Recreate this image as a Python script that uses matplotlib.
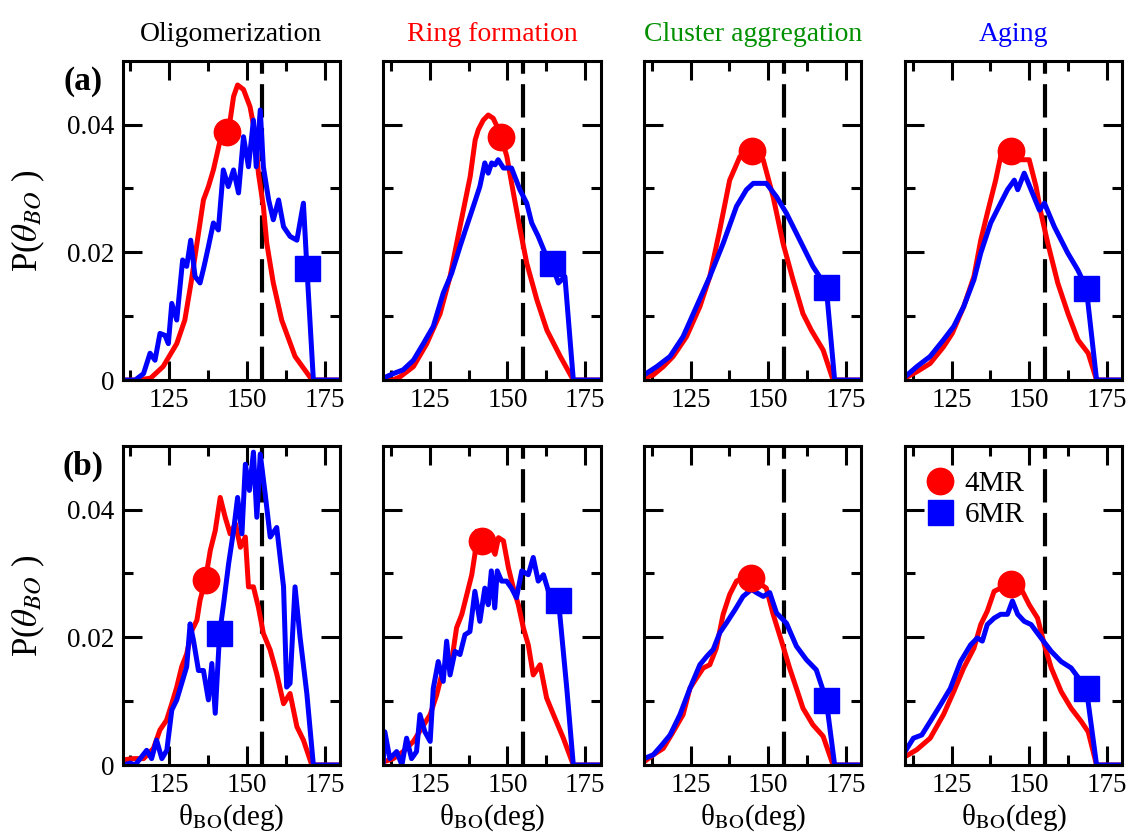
import numpy as np
import matplotlib
matplotlib.use('Agg')
import matplotlib.pyplot as plt
from matplotlib.lines import Line2D

plt.rcParams['font.family'] = ['Liberation Serif', 'DejaVu Serif']
plt.rcParams['mathtext.fontset'] = 'stix'

# Titulos de las columnas y sus colores
etapas = ["Oligomerization", "Ring formation", "Cluster aggregation", "Aging"]
colores_titulo = ["black", "#ff0000", "#009000", "#0000ff"]

# ---------------- Fila (a) ----------------
a1_4x = [110, 115, 119, 123, 127.4, 130, 132, 134.4, 136, 137.6, 139.2, 141.4, 144.6, 145.7, 147, 148.9, 151, 152.6, 153.7, 155.3, 156.4, 158.5, 161.2, 165.5, 171, 175, 180]
a1_4y = [0, 0, 0.0003, 0.0021, 0.0057, 0.0094, 0.0152, 0.023, 0.0282, 0.0303, 0.0329, 0.0376, 0.0407, 0.0444, 0.0462, 0.0455, 0.0428, 0.0387, 0.0324, 0.0272, 0.0214, 0.0152, 0.0094, 0.0037, 0, 0, 0]
a1_6x = [110, 114, 116.7, 118.8, 120.4, 122, 123.6, 124.7, 125.8, 127.4, 129.3, 130.6, 131.9, 133.3, 134.9, 136.2, 137.6, 139.2, 140.8, 142.4, 144, 145.7, 147.3, 148.9, 150.5, 152.1, 153, 154.3, 155.3, 157, 158.5, 160.2, 161.8, 163.9, 166.1, 168.2, 169.3, 171.4, 175, 180]
a1_6y = [0, 0, 0.001, 0.0042, 0.0031, 0.0073, 0.007, 0.0057, 0.012, 0.0094, 0.0188, 0.0178, 0.0219, 0.0162, 0.0152, 0.0178, 0.0209, 0.0246, 0.0235, 0.0329, 0.0303, 0.0329, 0.0293, 0.0381, 0.0334, 0.0407, 0.0334, 0.0423, 0.0334, 0.0282, 0.0251, 0.0282, 0.024, 0.0225, 0.0219, 0.0277, 0.0178, 0, 0, 0]

a2_4x = [110, 113, 115.4, 119.7, 124, 128.3, 131.5, 134.7, 138, 139.6, 140.6, 142.2, 143.8, 145.4, 147.6, 149.8, 151.9, 154.1, 156.2, 159.5, 162.7, 167, 171.2, 175, 180]
a2_4y = [0, 0, 0.0005, 0.0021, 0.0057, 0.0104, 0.0162, 0.024, 0.0319, 0.0376, 0.0392, 0.0407, 0.0415, 0.041, 0.0387, 0.035, 0.0293, 0.0235, 0.0183, 0.0125, 0.0078, 0.0037, 0, 0, 0]
a2_6x = [110, 113.2, 116.4, 119.7, 122.9, 126.1, 129.3, 132, 134.7, 136.8, 139, 141.1, 142.7, 143.8, 144.9, 146, 147, 148.7, 151.3, 154, 156.2, 157.8, 159.9, 162.1, 164.2, 166.4, 168.5, 171.2, 175, 180]
a2_6y = [0.0003, 0.001, 0.0016, 0.0031, 0.0057, 0.0084, 0.0136, 0.0167, 0.0209, 0.024, 0.0272, 0.0303, 0.034, 0.0324, 0.034, 0.0337, 0.0345, 0.0332, 0.0332, 0.0298, 0.0277, 0.0246, 0.0225, 0.0199, 0.0183, 0.0152, 0.0162, 0, 0, 0]

a3_4x = [110, 113, 116.2, 119.4, 123.7, 128, 131.2, 134.4, 137.6, 140.9, 144.9, 148.4, 151.6, 154.8, 158, 161.2, 163.9, 167.7, 170.9, 175, 180]
a3_4y = [0.0003, 0.0008, 0.0021, 0.0037, 0.0068, 0.0115, 0.0162, 0.0235, 0.0313, 0.035, 0.0358, 0.0345, 0.0287, 0.0214, 0.0157, 0.0104, 0.0078, 0.0047, 0, 0, 0]
a3_6x = [110, 114.1, 118.4, 122.6, 126.9, 131.2, 135.5, 139.8, 143, 145.2, 147.3, 149.4, 152.7, 155.9, 160.2, 164.4, 168.7, 171.4, 175, 180]
a3_6y = [0.0008, 0.0021, 0.0037, 0.0068, 0.0115, 0.0162, 0.0214, 0.0272, 0.0298, 0.0308, 0.0308, 0.0308, 0.0287, 0.0261, 0.0219, 0.0178, 0.0146, 0, 0, 0]

a4_4x = [110, 113.8, 118.1, 122.4, 125.2, 128.9, 132.2, 134.4, 136.5, 139.2, 140.8, 144.1, 147.3, 150, 152.2, 153.8, 156, 159.2, 162.5, 165.7, 169, 171.7, 175, 180]
a4_4y = [0.0003, 0.0013, 0.0026, 0.0052, 0.0073, 0.0115, 0.0162, 0.0219, 0.0261, 0.0313, 0.035, 0.0358, 0.0345, 0.0345, 0.0303, 0.0261, 0.0214, 0.0152, 0.0104, 0.0063, 0.0042, 0, 0, 0]
a4_6x = [110, 113.8, 118.1, 122.4, 125.7, 128.9, 132.2, 134.4, 137.6, 140.8, 143, 145.2, 146.3, 148.4, 150.6, 153.3, 154.9, 158.1, 162.4, 165.7, 168.4, 171.7, 175, 180]
a4_6y = [0.0005, 0.0021, 0.0037, 0.0063, 0.0084, 0.0115, 0.0157, 0.0199, 0.0246, 0.0277, 0.0298, 0.0313, 0.0298, 0.0324, 0.0298, 0.0266, 0.0277, 0.024, 0.0199, 0.0172, 0.0144, 0, 0, 0]

# ---------------- Fila (b) ----------------
b1_4x = [110, 113.4, 116.7, 119.9, 122, 124.1, 125.8, 127.4, 129, 130.6, 132.3, 133.9, 134.9, 136.6, 138.2, 139.8, 141.4, 143, 144.6, 146.3, 147.9, 149.5, 150.5, 152.1, 153.7, 155.3, 157.5, 159.6, 161.8, 163.9, 166.1, 168.2, 170.9, 175, 180]
b1_4y = [0.0008, 0.001, 0.001, 0.0026, 0.0055, 0.007, 0.0096, 0.0122, 0.0154, 0.0174, 0.0211, 0.0227, 0.0258, 0.0289, 0.0336, 0.0367, 0.0419, 0.0388, 0.0362, 0.0378, 0.0341, 0.0357, 0.0279, 0.0279, 0.0247, 0.0206, 0.018, 0.0143, 0.0096, 0.0112, 0.006, 0.0039, 0, 0, 0]
b1_6x = [110, 112.4, 114, 116.1, 117.7, 119.3, 120.9, 122.6, 124.2, 125.8, 127.4, 129, 130.6, 131.7, 132.8, 134.4, 136, 137.6, 138.7, 139.8, 141.2, 142.5, 144.1, 145.7, 147, 148.4, 149.5, 150.8, 152.1, 153.2, 154.3, 155.9, 157.5, 159.6, 161.8, 162.8, 163.9, 165.5, 167.1, 169.3, 171.4, 175, 180]
b1_6y = [0, 0.0003, 0, 0.0013, 0.0023, 0.001, 0.0039, 0.001, 0.0023, 0.0086, 0.0102, 0.0128, 0.0154, 0.0221, 0.0195, 0.0148, 0.0148, 0.0102, 0.0159, 0.0081, 0.0206, 0.0253, 0.0315, 0.0367, 0.0419, 0.0362, 0.0471, 0.043, 0.049, 0.0388, 0.0487, 0.0424, 0.0357, 0.0372, 0.0279, 0.0122, 0.0128, 0.0279, 0.0201, 0.0112, 0, 0, 0]

b2_4x = [110, 113.2, 116.4, 119.7, 122.4, 125.1, 127.2, 128.8, 130.4, 132, 133.6, 135.3, 136.9, 138.5, 139.5, 140.1, 141.7, 144.4, 146, 147.1, 148.7, 150.3, 151.9, 153.5, 155.1, 156.7, 158.3, 160.5, 162.6, 164.8, 168, 171.2, 175, 180]
b2_4y = [0.0005, 0.001, 0.0021, 0.0037, 0.0058, 0.0079, 0.011, 0.0141, 0.0162, 0.0162, 0.0215, 0.0236, 0.0267, 0.0298, 0.033, 0.0366, 0.0351, 0.0346, 0.033, 0.0356, 0.0351, 0.0309, 0.0277, 0.0251, 0.0215, 0.0188, 0.0141, 0.0157, 0.0105, 0.0079, 0.0042, 0, 0, 0]
b2_6x = [110, 110.5, 112.1, 114.3, 116, 117.5, 119.1, 120.7, 121.8, 123.4, 125.1, 126.1, 127.7, 129.3, 130.4, 131.5, 133.1, 134.7, 136.3, 137.9, 139.5, 141.1, 142.7, 143.8, 144.8, 145.9, 146.7, 148.1, 149.7, 151.3, 152.9, 154.6, 156.7, 158.3, 159.9, 161.6, 163.2, 166.4, 169.1, 171.2, 175, 180]
b2_6y = [0.0005, 0.0052, 0.001, 0.0021, 0, 0.0042, 0.001, 0.0021, 0.0079, 0.0052, 0.0037, 0.012, 0.0162, 0.0131, 0.0194, 0.0141, 0.0178, 0.0173, 0.0204, 0.0209, 0.0272, 0.0225, 0.0277, 0.0251, 0.0304, 0.0246, 0.0304, 0.0288, 0.0288, 0.0277, 0.0262, 0.0304, 0.0298, 0.0325, 0.0288, 0.0298, 0.0272, 0.0259, 0.012, 0, 0, 0]

b3_4x = [110, 113, 116.2, 119.4, 122.6, 124.8, 126.9, 129.1, 131.2, 133.3, 135.5, 137.6, 139.8, 143, 146.2, 149.4, 151.6, 154.3, 156.9, 159.1, 161.2, 164.4, 167.7, 170.9, 175, 180]
b3_4y = [0.0005, 0.0016, 0.0026, 0.0052, 0.0079, 0.012, 0.0136, 0.0152, 0.0157, 0.0183, 0.0236, 0.0267, 0.0288, 0.0296, 0.0288, 0.0277, 0.0236, 0.0194, 0.0152, 0.012, 0.0089, 0.0063, 0.0045, 0, 0, 0]
b3_6x = [110, 113, 115.7, 118.4, 121.6, 124.8, 128, 130.2, 132.3, 134.4, 136.5, 139.3, 141.9, 144.6, 146.2, 148.4, 150.5, 152.7, 155.9, 159.1, 162.3, 165.5, 168.7, 171.4, 175, 180]
b3_6y = [0.001, 0.0016, 0.0031, 0.0047, 0.0079, 0.012, 0.0157, 0.017, 0.0181, 0.0207, 0.0222, 0.0243, 0.0264, 0.0275, 0.027, 0.0264, 0.027, 0.0238, 0.0222, 0.0186, 0.0165, 0.0149, 0.0102, 0, 0, 0]

b4_4x = [110, 113.8, 118.1, 122.4, 125.7, 128.9, 132.2, 134.4, 136.5, 138.7, 140.8, 144.1, 147.3, 150, 152.7, 154.9, 157.1, 160.3, 163.5, 166.8, 169, 171.7, 175, 180]
b4_4y = [0.0013, 0.0024, 0.0042, 0.0079, 0.0115, 0.0152, 0.0183, 0.022, 0.0241, 0.0272, 0.0277, 0.0283, 0.0277, 0.0251, 0.023, 0.0188, 0.0152, 0.0115, 0.0089, 0.0068, 0.0052, 0, 0, 0]
b4_6x = [110, 112.7, 115.4, 118.1, 121.4, 124.6, 127.9, 131.1, 133.3, 134.9, 136.5, 138.7, 140.8, 143, 144.6, 146.3, 148.4, 150.6, 153.8, 157.1, 160.3, 163.5, 168.4, 171.7, 175, 180]
b4_6y = [0.0021, 0.0042, 0.0047, 0.0068, 0.0094, 0.012, 0.0162, 0.0188, 0.0199, 0.0194, 0.022, 0.023, 0.0236, 0.0236, 0.0257, 0.0236, 0.0225, 0.022, 0.0199, 0.0178, 0.0162, 0.0152, 0.012, 0, 0, 0]

# Posicion del simbolo (uno por curva), orden: a1..a4, b1..b4
simb4_x = [143.5, 147.8, 144.9, 144.1, 136.9, 141.7, 144.6, 144.1]
simb4_y = [0.0388, 0.038, 0.0358, 0.0358, 0.029, 0.0351, 0.0293, 0.0283]
simb6_x = [169.5, 164.2, 168.7, 168.4, 141.0, 166.4, 168.7, 168.4]
simb6_y = [0.0175, 0.0183, 0.0146, 0.0144, 0.0206, 0.0259, 0.0102, 0.012]

angulo_ref = 155  # linea punteada

curvas = [(a1_4x, a1_4y, a1_6x, a1_6y), (a2_4x, a2_4y, a2_6x, a2_6y),
          (a3_4x, a3_4y, a3_6x, a3_6y), (a4_4x, a4_4y, a4_6x, a4_6y),
          (b1_4x, b1_4y, b1_6x, b1_6y), (b2_4x, b2_4y, b2_6x, b2_6y),
          (b3_4x, b3_4y, b3_6x, b3_6y), (b4_4x, b4_4y, b4_6x, b4_6y)]

fig = plt.figure(figsize=(11.29, 8.38), dpi=100)

izq = [0.1087, 0.3395, 0.5704, 0.8016]
abajo = [0.5465, 0.0871]
ancho, alto = 0.1925, 0.381

rojo = '#ff0000'
azul = '#0000ff'

for k in range(8):
    fila, col = k // 4, k % 4
    ax = fig.add_axes([izq[col], abajo[fila], ancho, alto])
    x4, y4, x6, y6 = curvas[k]

    ax.axvline(angulo_ref, color='black', lw=3, dashes=(8, 2.5))
    ax.plot(x4, y4, color=rojo, lw=3.6)
    ax.plot(x6, y6, color=azul, lw=3.6)
    ax.plot(simb4_x[k], simb4_y[k], 'o', color=rojo, ms=19, mec=rojo)
    ax.plot(simb6_x[k], simb6_y[k], 's', color=azul, ms=18, mec=azul)

    ax.set_xlim(110, 180)
    ax.set_ylim(0, 0.05)
    ax.set_xticks([125, 150, 175])
    ax.set_xticks([112.5, 137.5, 162.5], minor=True)
    ax.set_yticks([0, 0.02, 0.04])
    ax.set_yticks([0.01, 0.03], minor=True)
    ax.tick_params(which='both', direction='in', top=True, right=True, width=2.2, labelsize=19.5)
    ax.tick_params(which='major', length=14, pad=6)
    ax.tick_params(which='minor', length=7)
    for s in ax.spines.values():
        s.set_linewidth(2.2)

    if col == 0:
        ax.set_yticklabels(['0', '0.02', '0.04'])
        ax.set_ylabel(r'P($\theta_{BO}$ )', fontsize=25)
        ax.yaxis.set_label_coords(-0.35, 0.5)
        ax.text(-0.183, 0.935, '(a)' if fila == 0 else '(b)', transform=ax.transAxes,
                fontsize=24, fontweight='bold', ha='center', va='center')
    else:
        ax.set_yticklabels([])

    if fila == 0:
        ax.set_title(etapas[col], color=colores_titulo[col], fontsize=20, pad=14)
    else:
        ax.set_xlabel(r'θ$_{\mathrm{BO}}$(deg)', fontsize=21, labelpad=3)

    # leyenda solo en el ultimo panel
    if k == 7:
        h = [Line2D([], [], ls='none', marker='o', color=rojo, ms=19),
             Line2D([], [], ls='none', marker='s', color=azul, ms=18)]
        ax.legend(h, ['4MR', '6MR'], loc='upper left', frameon=False, fontsize=21,
                  handlelength=1.0, handletextpad=0.35, labelspacing=0.15,
                  borderaxespad=0.3, bbox_to_anchor=(0.0, 0.985))

fig.savefig('out.png', dpi=100)
